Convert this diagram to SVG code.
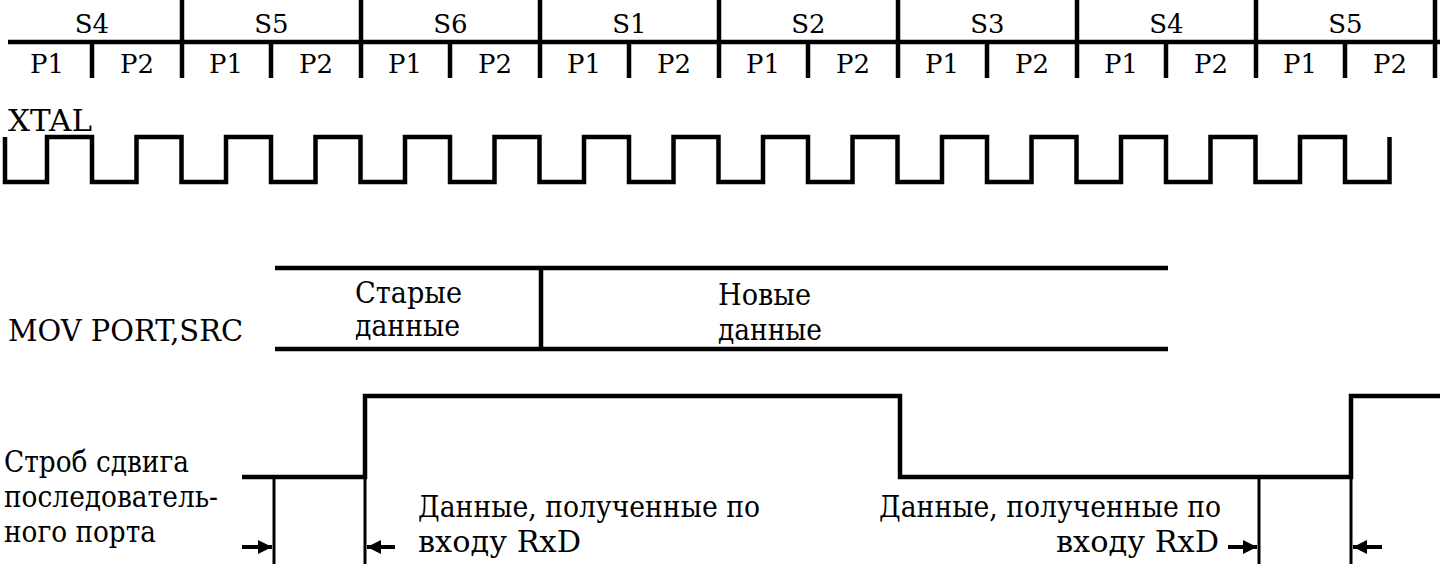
<svg xmlns="http://www.w3.org/2000/svg" width="1440" height="564" viewBox="0 0 1440 564">
  <style>
    text { font-family: "DejaVu Serif", serif; font-size: 29px; fill: #000; }
    .hdr text { font-size: 26px; }
    .c { text-anchor: middle; }
    .r { text-anchor: end; }
    .thick { stroke: #000; stroke-width: 4.5; fill: none; stroke-linecap: butt; }
    .thin { stroke: #000; stroke-width: 3; fill: none; }
    .arr { stroke: #000; stroke-width: 4; fill: none; }
  </style>
  <defs>
    <marker id="ah" viewBox="0 0 10 10" refX="10" refY="5" markerWidth="4" markerHeight="3.5" markerUnits="strokeWidth" orient="auto">
      <path d="M0,0 L10,5 L0,10 Z" fill="#000"/>
    </marker>
  </defs>
  <rect width="1440" height="564" fill="#fff"/>

  <g id="header" class="hdr">
    <line class="thick" x1="8" y1="42" x2="1440" y2="42"/>
    <g class="thick">
      <line x1="182" y1="0" x2="182" y2="78"/>
      <line x1="361" y1="0" x2="361" y2="78"/>
      <line x1="540" y1="0" x2="540" y2="78"/>
      <line x1="719" y1="0" x2="719" y2="78"/>
      <line x1="898" y1="0" x2="898" y2="78"/>
      <line x1="1077" y1="0" x2="1077" y2="78"/>
      <line x1="1256" y1="0" x2="1256" y2="78"/>
      <line x1="1435" y1="0" x2="1435" y2="78"/>
      <line x1="92" y1="42" x2="92" y2="78"/>
      <line x1="271" y1="42" x2="271" y2="78"/>
      <line x1="450" y1="42" x2="450" y2="78"/>
      <line x1="629" y1="42" x2="629" y2="78"/>
      <line x1="808" y1="42" x2="808" y2="78"/>
      <line x1="987" y1="42" x2="987" y2="78"/>
      <line x1="1166" y1="42" x2="1166" y2="78"/>
      <line x1="1345" y1="42" x2="1345" y2="78"/>
    </g>
    <g class="c">
      <text x="92" y="33">S4</text>
      <text x="271.5" y="33">S5</text>
      <text x="450.5" y="33">S6</text>
      <text x="629.5" y="33">S1</text>
      <text x="808.5" y="33">S2</text>
      <text x="987.5" y="33">S3</text>
      <text x="1166.5" y="33">S4</text>
      <text x="1345.5" y="33">S5</text>
      <text x="47" y="73">P1</text><text x="137" y="73">P2</text>
      <text x="226" y="73">P1</text><text x="316" y="73">P2</text>
      <text x="405" y="73">P1</text><text x="495" y="73">P2</text>
      <text x="584" y="73">P1</text><text x="674" y="73">P2</text>
      <text x="763" y="73">P1</text><text x="853" y="73">P2</text>
      <text x="942" y="73">P1</text><text x="1032" y="73">P2</text>
      <text x="1121" y="73">P1</text><text x="1211" y="73">P2</text>
      <text x="1300" y="73">P1</text><text x="1390" y="73">P2</text>
    </g>
  </g>

  <g id="xtal">
    <text x="8" y="131" textLength="84" lengthAdjust="spacingAndGlyphs">XTAL</text>
    <path class="thick" d="M5,137 V182 H47 V137 H92 V182 H136.5 V137 H181.5 V182 H226 V137 H271 V182 H315.5 V137 H360.5 V182 H405 V137 H450 V182 H494.5 V137 H539.5 V182 H584 V137 H629 V182 H673.5 V137 H718.5 V182 H763 V137 H808 V182 H852.5 V137 H897.5 V182 H942 V137 H987 V182 H1031.5 V137 H1076.5 V182 H1121 V137 H1166 V182 H1210.5 V137 H1255.5 V182 H1300 V137 H1345 V182 H1389.5 V137"/>
  </g>

  <g id="mov-port">
    <text x="8" y="341" textLength="235" lengthAdjust="spacingAndGlyphs">MOV PORT,SRC</text>
    <line class="thick" x1="275" y1="268" x2="1168" y2="268"/>
    <line class="thick" x1="275" y1="349" x2="1168" y2="349"/>
    <line class="thick" x1="541" y1="268" x2="541" y2="349"/>
    <text x="355" y="303" textLength="107" lengthAdjust="spacingAndGlyphs">Старые</text>
    <text x="355" y="336" textLength="105" lengthAdjust="spacingAndGlyphs">данные</text>
    <text x="718" y="305" textLength="93" lengthAdjust="spacingAndGlyphs">Новые</text>
    <text x="718" y="340" textLength="104" lengthAdjust="spacingAndGlyphs">данные</text>
  </g>

  <g id="strobe">
    <text x="4" y="472" textLength="185" lengthAdjust="spacingAndGlyphs">Строб сдвига</text>
    <text x="4" y="507" textLength="214" lengthAdjust="spacingAndGlyphs">последователь-</text>
    <text x="4" y="542" textLength="152" lengthAdjust="spacingAndGlyphs">ного порта</text>
    <path class="thick" d="M242,477 H365 V396 H900 V477 H1351 V396 H1440"/>
  </g>

  <g id="label-rxd-1">
    <text x="418" y="517" textLength="342" lengthAdjust="spacingAndGlyphs">Данные, полученные по</text>
    <text x="418" y="552" textLength="163" lengthAdjust="spacingAndGlyphs">входу RxD</text>
  </g>
  <g id="label-rxd-2">
    <text x="879" y="517" textLength="342" lengthAdjust="spacingAndGlyphs">Данные, полученные по</text>
    <text x="1056" y="552" textLength="163" lengthAdjust="spacingAndGlyphs">входу RxD</text>
  </g>

  <g id="connectors">
    <line class="thin" x1="274" y1="477" x2="274" y2="564"/>
    <line class="thin" x1="365" y1="477" x2="365" y2="564"/>
    <line class="thin" x1="1259" y1="477" x2="1259" y2="564"/>
    <line class="thin" x1="1351" y1="477" x2="1351" y2="564"/>
    <line class="arr" x1="242" y1="547" x2="272" y2="547" marker-end="url(#ah)"/>
    <line class="arr" x1="395" y1="547" x2="367" y2="547" marker-end="url(#ah)"/>
    <line class="arr" x1="1228" y1="547" x2="1257" y2="547" marker-end="url(#ah)"/>
    <line class="arr" x1="1382" y1="547" x2="1353" y2="547" marker-end="url(#ah)"/>
  </g>
</svg>
